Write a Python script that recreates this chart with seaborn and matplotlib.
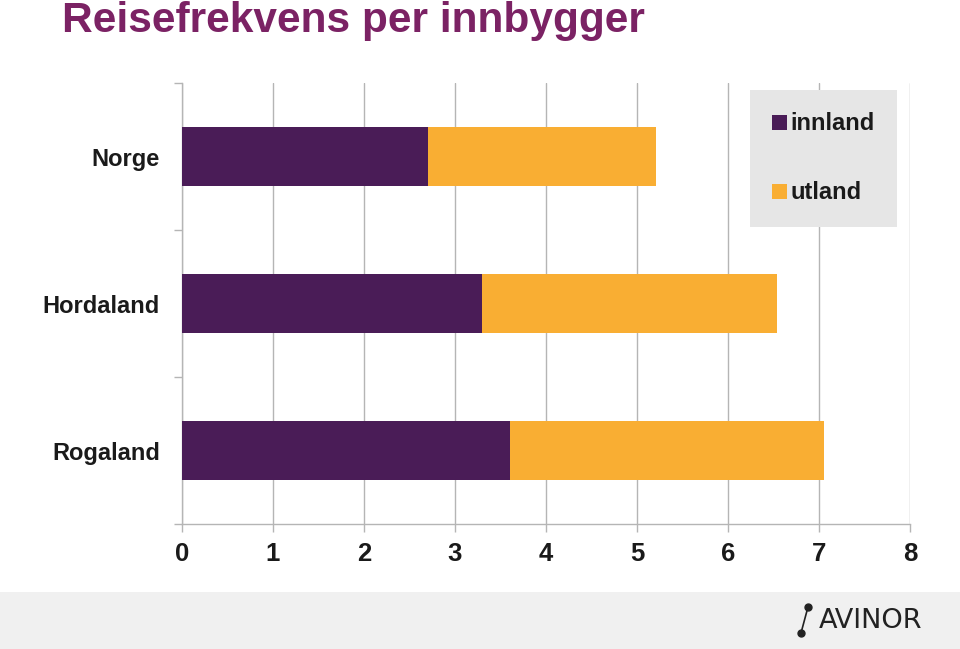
import matplotlib
matplotlib.use("Agg")
import matplotlib.pyplot as plt
import seaborn as sns
import pandas as pd
from matplotlib.patches import Patch, Rectangle

regions = ["Norge", "Hordaland", "Rogaland"]
innland = [2.70, 3.30, 3.60]
utland = [2.51, 3.24, 3.46]
series_names = ["innland", "utland"]
x_ticks = [0, 1, 2, 3, 4, 5, 6, 7, 8]

purple = "#4a1c57"
orange = "#f9ae33"
title_color = "#7b2264"

df = pd.DataFrame({"region": regions, "innland": innland, "utland": utland})
df["total"] = df["innland"] + df["utland"]

sns.set_theme(style="white")
plt.rcParams["font.family"] = ["Liberation Sans", "DejaVu Sans"]

fig = plt.figure(figsize=(9.6, 6.49), dpi=100)
ax = fig.add_axes([182 / 960, 1 - 524 / 649, 728 / 960, 441 / 649])

sns.barplot(data=df, y="region", x="total", color=orange, width=0.4,
            saturation=1, orient="h", ax=ax, zorder=3, linewidth=0)
sns.barplot(data=df, y="region", x="innland", color=purple, width=0.4,
            saturation=1, orient="h", ax=ax, zorder=4, linewidth=0)

ax.set_xlim(0, 8)
ax.set_ylim(2.5, -0.5)
ax.set_xticks(x_ticks)
ax.set_xticklabels([str(t) for t in x_ticks], fontsize=18.5, fontweight="bold",
                   color="#1a1a1a")
ax.set_yticks(range(len(regions)))
ax.set_yticklabels(regions, fontsize=17, fontweight="bold", color="#1a1a1a")
ax.set_yticks([-0.5, 0.5, 1.5, 2.5], minor=True)
ax.tick_params(axis="y", which="major", length=0, pad=16)
ax.tick_params(axis="y", which="minor", length=6, color="#b5b5b5", width=1,
               left=True)
ax.tick_params(axis="x", which="major", length=6, color="#b5b5b5", width=1,
               bottom=True, pad=7)
ax.set_xlabel("")
ax.set_ylabel("")
ax.grid(axis="x", color="#b5b5b5", linewidth=1, zorder=0)
ax.set_axisbelow(True)
for side in ["top", "right"]:
    ax.spines[side].set_visible(False)
for side in ["left", "bottom"]:
    ax.spines[side].set_color("#b5b5b5")
    ax.spines[side].set_linewidth(1)

# legend
handles = [Patch(facecolor=purple, edgecolor="none"),
           Patch(facecolor=orange, edgecolor="none")]
leg = fig.legend(handles, series_names, loc="upper left",
                 bbox_to_anchor=(750 / 960, 1 - 90 / 649),
                 frameon=True, fancybox=False, framealpha=1,
                 facecolor="#e6e6e6", edgecolor="none",
                 prop={"size": 17, "weight": "bold"},
                 handlelength=0.6, handleheight=0.6, handletextpad=0.15,
                 labelspacing=1.95, borderpad=0.95, borderaxespad=0)
for t in leg.get_texts():
    t.set_color("#1a1a1a")

# title
fig.text(62 / 960, 1 - 32 / 649, "Reisefrekvens per innbygger",
         fontsize=30.5, fontweight="bold", color=title_color,
         ha="left", va="baseline")

# footer band with logo text
fig.patches.append(Rectangle((0, 0), 1, 57 / 649, transform=fig.transFigure,
                             facecolor="#f0f0f0", edgecolor="none", zorder=0))
fig.text(819 / 960, 1 - 621 / 649, "AVINOR", fontsize=19.5, color="#222222",
         ha="left", va="center", family="DejaVu Sans")
fig.lines.append(plt.Line2D([801 / 960, 808 / 960], [1 - 633 / 649, 1 - 607 / 649],
                            transform=fig.transFigure, color="#222222",
                            linewidth=1.2, marker="o", markersize=5,
                            markevery=[0, 1]))

fig.savefig("out.png", dpi=100)
